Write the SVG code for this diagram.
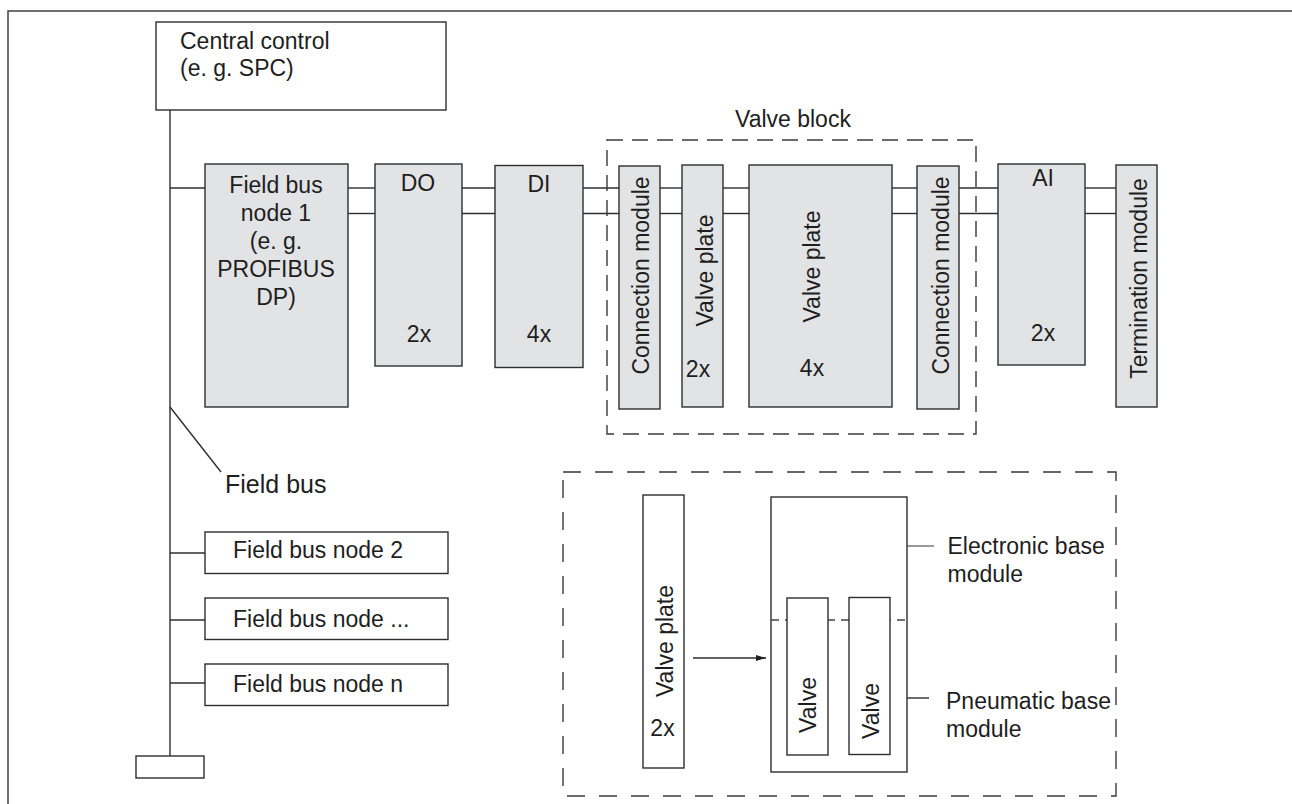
<svg xmlns="http://www.w3.org/2000/svg" width="1292" height="804" viewBox="0 0 1292 804">
<style>
text{font-family:"Liberation Sans",Arial,sans-serif;font-size:23px;fill:#1e1e1e}
.g{fill:#e2e3e5;stroke:#2e2e2e;stroke-width:1.4}
.w{fill:#fff;stroke:#2e2e2e;stroke-width:1.4}
.ln{stroke:#2e2e2e;stroke-width:1.4;fill:none}
.lt{stroke:#777;stroke-width:1.4;fill:none}
.d1{fill:none;stroke:#3a3a3a;stroke-width:1.4;stroke-dasharray:16 9}
.d2{fill:none;stroke:#3a3a3a;stroke-width:1.4;stroke-dasharray:18 14}
.d3{fill:none;stroke:#444;stroke-width:1.4;stroke-dasharray:8 6}
.m{text-anchor:middle}
</style>
<defs>
<marker id="ah" markerWidth="10" markerHeight="8" refX="10" refY="4" orient="auto" markerUnits="userSpaceOnUse">
<path d="M0,1 L10,4 L0,7 Z" fill="#1e1e1e"/>
</marker>
</defs>
<rect x="8" y="11" width="1300" height="800" fill="#fff" stroke="#333" stroke-width="1.4"/>

<g id="connectors">
<line class="ln" x1="170" y1="110" x2="170" y2="756"/>
<line class="ln" x1="170" y1="188" x2="205" y2="188"/>
<line class="ln" x1="348" y1="188" x2="375" y2="188"/>
<line class="ln" x1="348" y1="213.5" x2="375" y2="213.5"/>
<line class="ln" x1="462" y1="188" x2="495" y2="188"/>
<line class="ln" x1="462" y1="213.5" x2="495" y2="213.5"/>
<line class="ln" x1="583" y1="188" x2="619" y2="188"/>
<line class="ln" x1="583" y1="213.5" x2="619" y2="213.5"/>
<line class="ln" x1="660" y1="188" x2="682" y2="188"/>
<line class="ln" x1="660" y1="213.5" x2="682" y2="213.5"/>
<line class="ln" x1="723" y1="188" x2="749" y2="188"/>
<line class="ln" x1="723" y1="213.5" x2="749" y2="213.5"/>
<line class="ln" x1="892" y1="188" x2="917" y2="188"/>
<line class="ln" x1="892" y1="213.5" x2="917" y2="213.5"/>
<line class="ln" x1="959" y1="188" x2="998" y2="188"/>
<line class="ln" x1="959" y1="213.5" x2="998" y2="213.5"/>
<line class="ln" x1="1085" y1="188" x2="1116" y2="188"/>
<line class="ln" x1="1085" y1="213.5" x2="1116" y2="213.5"/>
<line class="ln" x1="170" y1="407" x2="221" y2="472"/>
<line class="ln" x1="170" y1="553" x2="205" y2="553"/>
<line class="ln" x1="170" y1="620" x2="205" y2="620"/>
<line class="ln" x1="170" y1="683" x2="205" y2="683"/>
<line class="ln" x1="693" y1="658" x2="766" y2="658" marker-end="url(#ah)"/>
<line class="lt" x1="885" y1="546" x2="934" y2="546"/>
<line class="ln" x1="907" y1="698" x2="929" y2="698"/>
</g>

<g id="central-control">
<rect class="w" x="156" y="22" width="290" height="88"/>
<text x="180" y="49">Central control</text>
<text x="180" y="76">(e. g. SPC)</text>
</g>

<g id="field-bus-node-1">
<rect class="g" x="205" y="164" width="143" height="243"/>
<text class="m" x="276" y="193">Field bus</text>
<text class="m" x="276" y="221">node 1</text>
<text class="m" x="276" y="249">(e. g.</text>
<text class="m" x="276" y="277">PROFIBUS</text>
<text class="m" x="276" y="305">DP)</text>
</g>

<g id="do">
<rect class="g" x="375" y="164" width="87" height="202"/>
<text class="m" x="418" y="191">DO</text>
<text class="m" x="419" y="342">2x</text>
</g>

<g id="di">
<rect class="g" x="495" y="165.5" width="88" height="202"/>
<text class="m" x="539" y="191.5">DI</text>
<text class="m" x="539" y="342">4x</text>
</g>

<g id="valve-block">
<rect class="d1" x="607" y="140" width="369" height="294"/>
<text x="735" y="127">Valve block</text>
</g>

<g id="connection-module-1">
<rect class="g" x="619" y="166" width="41" height="243"/>
<text class="m" transform="translate(649.3,275.5) rotate(-90)">Connection module</text>
</g>

<g id="valve-plate-1">
<rect class="g" x="682" y="165" width="41" height="242"/>
<text class="m" transform="translate(712.7,270.5) rotate(-90)">Valve plate</text>
<text class="m" x="698" y="376.5">2x</text>
</g>

<g id="valve-plate-2">
<rect class="g" x="749" y="165" width="143" height="242"/>
<text class="m" transform="translate(820,266.5) rotate(-90)">Valve plate</text>
<text class="m" x="812" y="375.5">4x</text>
</g>

<g id="connection-module-2">
<rect class="g" x="917" y="166" width="42" height="243"/>
<text class="m" transform="translate(949.3,275.5) rotate(-90)">Connection module</text>
</g>

<g id="ai">
<rect class="g" x="998" y="164" width="87" height="201"/>
<text class="m" x="1043" y="186">AI</text>
<text class="m" x="1043" y="340.5">2x</text>
</g>

<g id="termination-module">
<rect class="g" x="1116" y="165" width="41" height="242"/>
<text class="m" transform="translate(1146.7,278.5) rotate(-90)">Termination module</text>
</g>

<g id="field-bus-label">
<text x="225" y="492.5" style="font-size:25px">Field bus</text>
</g>

<g id="field-bus-node-2">
<rect class="w" x="205" y="532" width="243" height="41.5"/>
<text x="233" y="558">Field bus node 2</text>
</g>
<g id="field-bus-node-dots">
<rect class="w" x="205" y="598" width="243" height="41.5"/>
<text x="233" y="627">Field bus node ...</text>
</g>
<g id="field-bus-node-n">
<rect class="w" x="205" y="664" width="243" height="41.5"/>
<text x="233" y="692">Field bus node n</text>
</g>

<g id="terminator">
<rect class="w" x="136" y="756" width="68" height="22"/>
</g>

<g id="detail">
<rect class="d2" x="563" y="472" width="553" height="324"/>
</g>

<g id="valve-plate-detail">
<rect class="w" x="643" y="495" width="41" height="273"/>
<text class="m" transform="translate(672.7,641) rotate(-90)">Valve plate</text>
<text class="m" x="662.5" y="736">2x</text>
</g>

<g id="base-module">
<rect class="w" x="771" y="497" width="136" height="275"/>
<line class="d3" x1="771" y1="620" x2="907" y2="620"/>
</g>

<g id="valve-1">
<rect class="w" x="787" y="598" width="41" height="157"/>
<text class="m" transform="translate(816,705) rotate(-90)">Valve</text>
</g>
<g id="valve-2">
<rect class="w" x="849" y="597.5" width="41" height="157"/>
<text class="m" transform="translate(879.3,711) rotate(-90)">Valve</text>
</g>

<g id="electronic-label">
<text x="947.5" y="553.5">Electronic base</text>
<text x="947.5" y="582">module</text>
</g>
<g id="pneumatic-label">
<text x="946" y="708.5">Pneumatic base</text>
<text x="946" y="737">module</text>
</g>
</svg>
